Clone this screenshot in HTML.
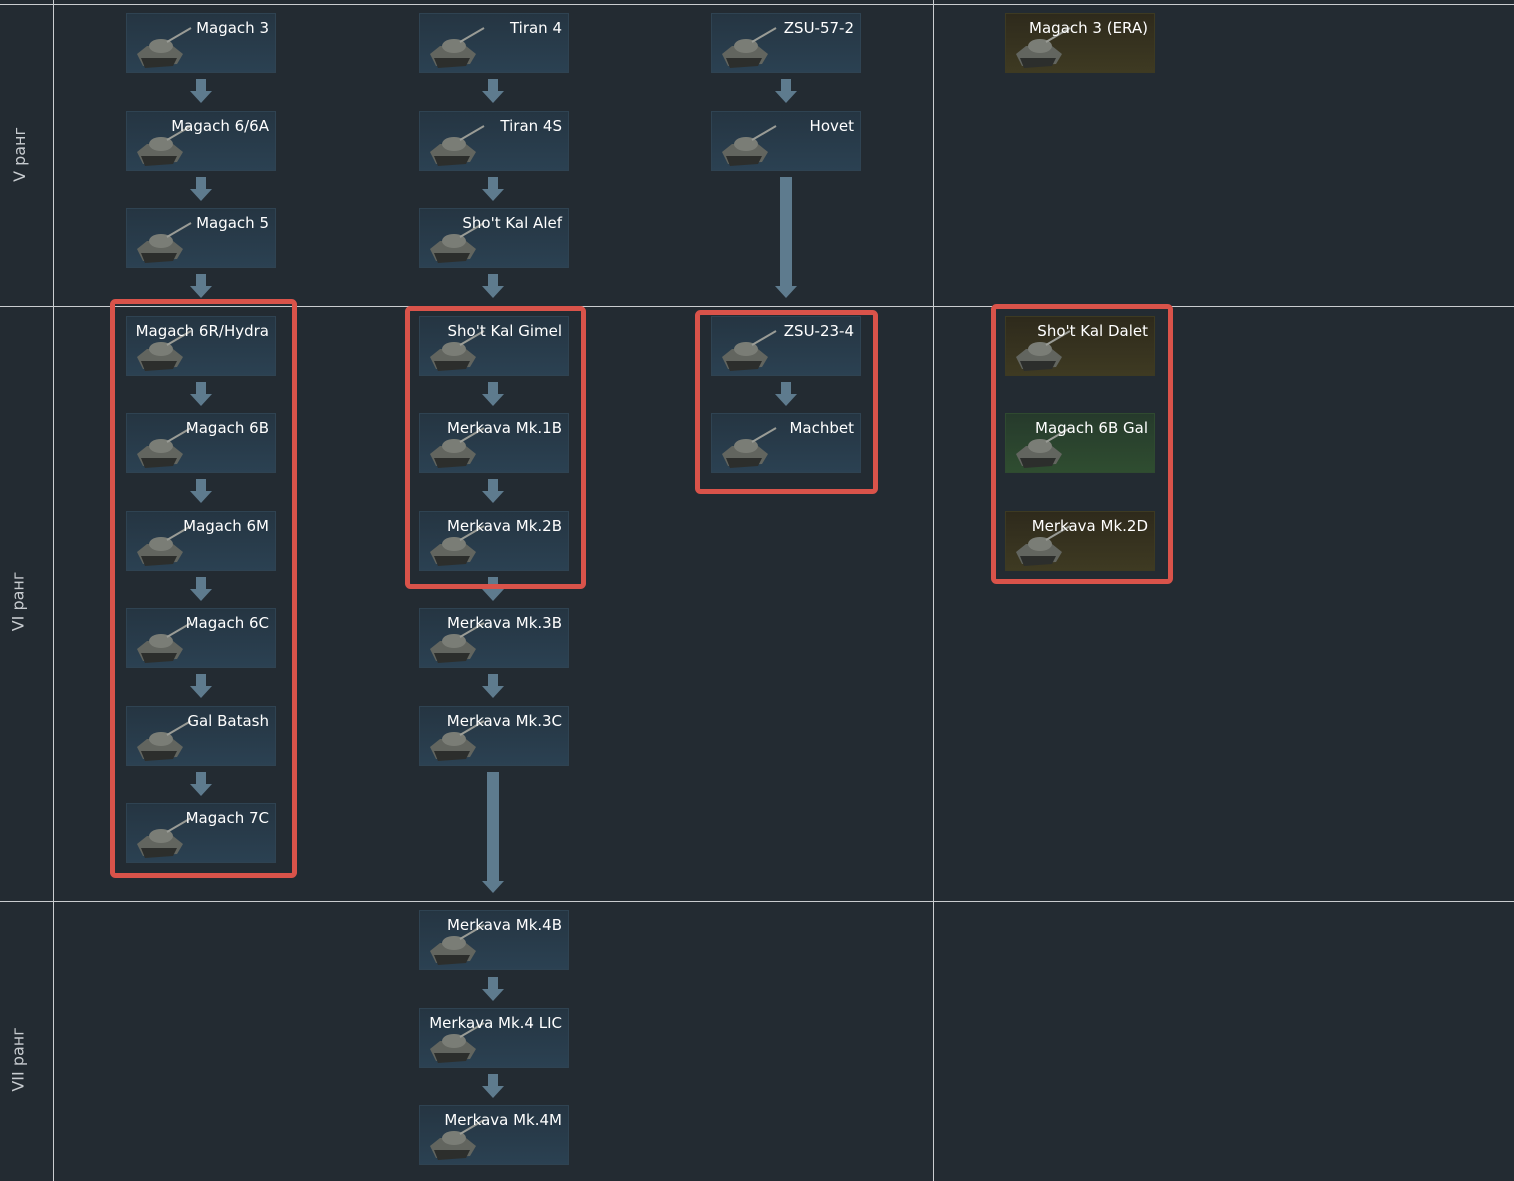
<!DOCTYPE html>
<html><head><meta charset="utf-8"><style>
body{margin:0;width:1514px;height:1181px;background:#232b32;position:relative;overflow:hidden;font-family:"DejaVu Sans","Liberation Sans",sans-serif}
.c{position:absolute;width:148px;height:58px;border:1px solid #2f4352;background:linear-gradient(180deg,#253542,#2b4152)}
.c.p{border-color:#3d3a22;background:linear-gradient(180deg,#2e2a1c,#3e3a22)}
.c.g{border-color:#2f4a30;background:linear-gradient(180deg,#263a2c,#2f4d30)}
.c span{position:absolute;right:6px;top:5px;color:#fff;font-size:15px;white-space:nowrap}
.c svg{position:absolute;left:6px;top:10px}
.r{position:absolute;color:#c8ccd0;font-size:16px;transform:rotate(-90deg);white-space:nowrap;transform-origin:center}
</style></head><body>
<svg width="1514" height="1181" style="position:absolute;left:0;top:0">
<defs>
<g id="t"><polygon points="4,30 14,22 40,22 50,30 44,40 10,42" fill="#62655f"/><polygon points="8,34 44,34 40,42 12,44" fill="#2c2e2c"/><ellipse cx="28" cy="22" rx="12" ry="7" fill="#7a7d76"/><line x1="34" y1="18" x2="58" y2="4" stroke="#9a9c96" stroke-width="2"/></g>
<g id="a"><rect x="-5" y="0" width="10" height="12" fill="#5e7b8e"/><polygon points="-11,12 11,12 0,24" fill="#5e7b8e"/></g>
</defs>
<g stroke="#c9cdd0" stroke-width="1">
<line x1="0" y1="4.5" x2="1514" y2="4.5"/><line x1="0" y1="306.5" x2="1514" y2="306.5"/><line x1="0" y1="901.5" x2="1514" y2="901.5"/>
<line x1="53.5" y1="0" x2="53.5" y2="1181"/><line x1="933.5" y1="0" x2="933.5" y2="1181"/>
</g>
<use href="#a" x="201" y="79"/><use href="#a" x="201" y="177"/><use href="#a" x="201" y="274"/>
<use href="#a" x="201" y="382"/><use href="#a" x="201" y="479"/><use href="#a" x="201" y="577"/><use href="#a" x="201" y="674"/><use href="#a" x="201" y="772"/>
<use href="#a" x="493" y="79"/><use href="#a" x="493" y="177"/><use href="#a" x="493" y="274"/>
<use href="#a" x="493" y="382"/><use href="#a" x="493" y="479"/><use href="#a" x="493" y="577"/><use href="#a" x="493" y="674"/>
<use href="#a" x="493" y="977"/><use href="#a" x="493" y="1074"/>
<use href="#a" x="786" y="79"/><use href="#a" x="786" y="382"/>
<rect x="780" y="177" width="12" height="110" fill="#5e7b8e"/><polygon points="775,286 797,286 786,298" fill="#5e7b8e"/>
<rect x="487" y="772" width="12" height="110" fill="#5e7b8e"/><polygon points="482,881 504,881 493,893" fill="#5e7b8e"/>
<g fill="none" stroke="#d9534a" stroke-width="5">
<rect x="112.5" y="301.5" width="182" height="574" rx="3"/>
<rect x="407.5" y="308.5" width="176" height="278" rx="3"/>
<rect x="697.5" y="312.5" width="178" height="179" rx="3"/>
<rect x="993.5" y="306.5" width="177" height="275" rx="3"/>
</g>
</svg>
<div class="r" style="left:-8px;top:145px">V ранг</div>
<div class="r" style="left:-12px;top:592px">VI ранг</div>
<div class="r" style="left:-14px;top:1050px">VII ранг</div>

<div class="c" style="left:126px;top:13px"><svg width="60" height="46"><use href="#t"/></svg><span>Magach 3</span></div>
<div class="c" style="left:126px;top:111px"><svg width="60" height="46"><use href="#t"/></svg><span>Magach 6/6A</span></div>
<div class="c" style="left:126px;top:208px"><svg width="60" height="46"><use href="#t"/></svg><span>Magach 5</span></div>
<div class="c" style="left:126px;top:316px"><svg width="60" height="46"><use href="#t"/></svg><span>Magach 6R/Hydra</span></div>
<div class="c" style="left:126px;top:413px"><svg width="60" height="46"><use href="#t"/></svg><span>Magach 6B</span></div>
<div class="c" style="left:126px;top:511px"><svg width="60" height="46"><use href="#t"/></svg><span>Magach 6M</span></div>
<div class="c" style="left:126px;top:608px"><svg width="60" height="46"><use href="#t"/></svg><span>Magach 6C</span></div>
<div class="c" style="left:126px;top:706px"><svg width="60" height="46"><use href="#t"/></svg><span>Gal Batash</span></div>
<div class="c" style="left:126px;top:803px"><svg width="60" height="46"><use href="#t"/></svg><span>Magach 7C</span></div>

<div class="c" style="left:419px;top:13px"><svg width="60" height="46"><use href="#t"/></svg><span>Tiran 4</span></div>
<div class="c" style="left:419px;top:111px"><svg width="60" height="46"><use href="#t"/></svg><span>Tiran 4S</span></div>
<div class="c" style="left:419px;top:208px"><svg width="60" height="46"><use href="#t"/></svg><span>Sho't Kal Alef</span></div>
<div class="c" style="left:419px;top:316px"><svg width="60" height="46"><use href="#t"/></svg><span>Sho't Kal Gimel</span></div>
<div class="c" style="left:419px;top:413px"><svg width="60" height="46"><use href="#t"/></svg><span>Merkava Mk.1B</span></div>
<div class="c" style="left:419px;top:511px"><svg width="60" height="46"><use href="#t"/></svg><span>Merkava Mk.2B</span></div>
<div class="c" style="left:419px;top:608px"><svg width="60" height="46"><use href="#t"/></svg><span>Merkava Mk.3B</span></div>
<div class="c" style="left:419px;top:706px"><svg width="60" height="46"><use href="#t"/></svg><span>Merkava Mk.3C</span></div>
<div class="c" style="left:419px;top:910px"><svg width="60" height="46"><use href="#t"/></svg><span>Merkava Mk.4B</span></div>
<div class="c" style="left:419px;top:1008px"><svg width="60" height="46"><use href="#t"/></svg><span>Merkava Mk.4 LIC</span></div>
<div class="c" style="left:419px;top:1105px"><svg width="60" height="46"><use href="#t"/></svg><span>Merkava Mk.4M</span></div>

<div class="c" style="left:711px;top:13px"><svg width="60" height="46"><use href="#t"/></svg><span>ZSU-57-2</span></div>
<div class="c" style="left:711px;top:111px"><svg width="60" height="46"><use href="#t"/></svg><span>Hovet</span></div>
<div class="c" style="left:711px;top:316px"><svg width="60" height="46"><use href="#t"/></svg><span>ZSU-23-4</span></div>
<div class="c" style="left:711px;top:413px"><svg width="60" height="46"><use href="#t"/></svg><span>Machbet</span></div>

<div class="c p" style="left:1005px;top:13px"><svg width="60" height="46"><use href="#t"/></svg><span>Magach 3 (ERA)</span></div>
<div class="c p" style="left:1005px;top:316px"><svg width="60" height="46"><use href="#t"/></svg><span>Sho't Kal Dalet</span></div>
<div class="c g" style="left:1005px;top:413px"><svg width="60" height="46"><use href="#t"/></svg><span>Magach 6B Gal</span></div>
<div class="c p" style="left:1005px;top:511px"><svg width="60" height="46"><use href="#t"/></svg><span>Merkava Mk.2D</span></div>
</body></html>
